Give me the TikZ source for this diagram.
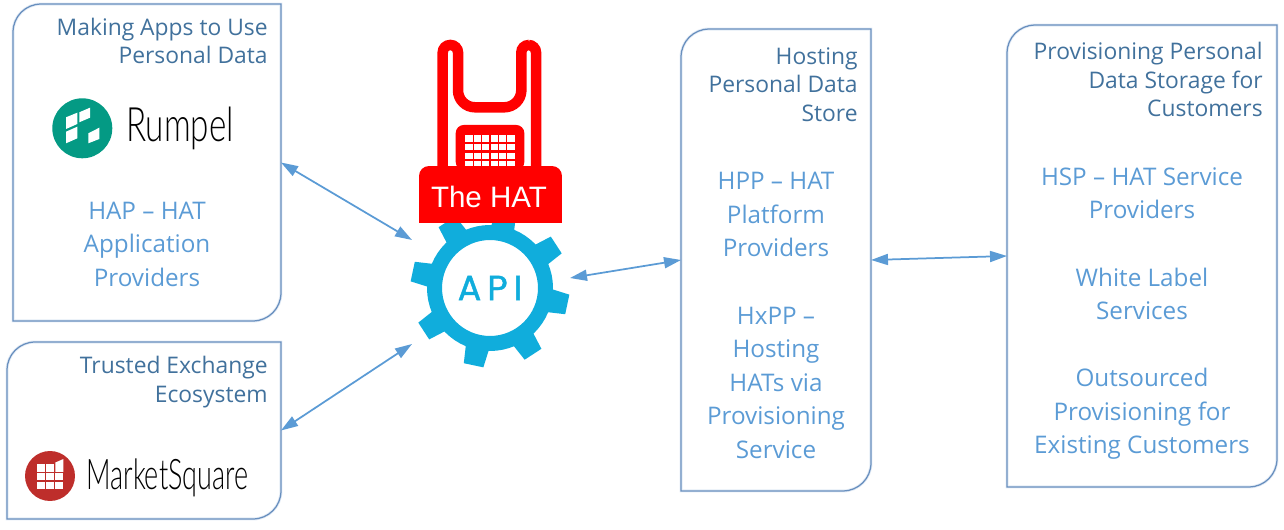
\documentclass[tikz,border=0pt]{standalone}
\usepackage{fontspec}
\setmainfont{Open Sans}
\newfontfamily\logofont[FakeStretch=0.7]{Lato Light}
\newfontfamily\marketfont[FakeStretch=0.64]{Lato Light}
\newfontfamily\hatfont{Liberation Sans}
\newfontfamily\apifont[LetterSpace=17,FakeBold=1.2]{Poppins}
\usetikzlibrary{arrows.meta}
\definecolor{HeadBlue}{RGB}{65,113,156}
\definecolor{BodyBlue}{RGB}{91,155,213}
\definecolor{EdgeBlue}{RGB}{104,143,190}
\definecolor{ShadeBlue}{RGB}{228,236,246}
\definecolor{GearBlue}{RGB}{16,173,220}
\definecolor{HatRed}{RGB}{255,0,0}
\definecolor{RumpelGreen}{RGB}{4,154,132}
\definecolor{MarketRed}{RGB}{190,46,43}
\tikzset{databox/.style={rectangle,inner sep=0pt,outer sep=0pt},
head/.style={font=\fontsize{13}{16.2}\selectfont,text=HeadBlue,align=right,anchor=east,inner sep=0pt},
body/.style={font=\fontsize{13.8}{19.07}\selectfont,text=BodyBlue,align=center,inner sep=0pt},
boxline/.style={draw=EdgeBlue,line width=0.025cm},
boxshade/.style={draw=ShadeBlue,line width=0.06cm,shift={(1.5,2)}},
link/.style={draw=BodyBlue,line width=0.035cm,{Triangle[length=0.34cm,width=0.22cm]}-{Triangle[length=0.34cm,width=0.22cm]}},
logotext/.style={font=\logofont\fontsize{27}{30}\selectfont,text=black,inner sep=0pt}}
\newcommand{\tabpath}[1]{(#1.north) [sharp corners] -- (#1.north east) -- (#1.east) [rounded corners=0.56cm] -- (#1.south east) -- (#1.south) [sharp corners] -- (#1.south west) -- (#1.west) [rounded corners=0.56cm] -- (#1.north west) -- (#1.north)}
\newcommand{\tabbox}[1]{\draw[boxshade] \tabpath{#1};\draw[boxline] \tabpath{#1};}
\begin{document}
\begin{tikzpicture}[x=0.02cm,y=-0.02cm]
\useasboundingbox (0,0) rectangle (1284,530);
\node[databox,minimum width=5.36cm,minimum height=6.34cm] (hapbox) at (147,162.5) {};
\node[databox,minimum width=5.48cm,minimum height=3.54cm] (tradebox) at (144,430.5) {};
\node[databox,minimum width=3.8cm,minimum height=9.24cm] (hppbox) at (776,260) {};
\node[databox,minimum width=5.4cm,minimum height=9.24cm] (hspbox) at (1142,256) {};
\tabbox{hapbox}
\tabbox{tradebox}
\tabbox{hppbox}
\tabbox{hspbox}
\node[head] (haphead) at (268,41) {Making Apps to Use\\Personal Data};
\node[head] (tradehead) at (268,382) {Trusted Exchange\\Ecosystem};
\node[head] (hpphead) at (858,84.5) {Hosting\\Personal Data\\Store};
\node[head] (hsphead) at (1263,79.5) {Provisioning Personal\\Data Storage for\\Customers};
\node[body] (haptext) at (147,244) {HAP – HAT\\Application\\Providers};
\node[body] (hpptext) at (776,214.5) {HPP – HAT\\Platform\\Providers};
\node[body] (hxpptext) at (776,382.5) {HxPP –\\Hosting\\HATs via\\Provisioning\\Service};
\node[body] (hsptext) at (1142,193) {HSP – HAT Service\\Providers};
\node[body] (whitetext) at (1142,294) {White Label\\Services};
\node[body] (outtext) at (1142,414) {Outsourced\\Provisioning for\\Existing Customers};
\node[circle,fill=RumpelGreen,minimum size=1.2cm,inner sep=0pt] (rumpellogo) at (82.3,128.3) {};
\fill[white] (66,117.3)--(77.3,112.7)--(77.3,124)--(66,129)--cycle;
\fill[white] (79.3,112.3)--(90,107.7)--(90,117.7)--(79.3,122.3)--cycle;
\fill[white] (66,131.7)--(77.3,126.7)--(77.3,138.3)--(66,143.3)--cycle;
\fill[white] (88.3,133.3)--(99.3,127.7)--(99.3,139)--(88.3,143.3)--cycle;
\node[logotext,anchor=west] (rumpelname) at (126,128) {Rumpel};
\node[circle,fill=MarketRed,minimum size=1cm,inner sep=0pt] (marketlogo) at (50,476) {};
\foreach \i in {0,1,2}{
\foreach \j in {0,1}{
\fill[white] (37+\i*9.2,473+\j*8.6) rectangle ++(8,7.4);
}}
\fill[white] (37,464.4) rectangle ++(8,7.4);
\fill[white] (46.2,464.4) rectangle ++(8,7.4);
\fill[white] (55.4,462.5)--(63.4,459)--(63.4,471.8)--(55.4,471.8)--cycle;
\node[logotext,anchor=west,font=\marketfont\fontsize{24}{30}\selectfont] (marketname) at (86,478) {MarketSquare};
\foreach \a in {33,-12,-57,-102,-147,168,123,78}{
\begin{scope}[shift={(490,288)},rotate=\a]
\fill[GearBlue] (58,-12)--(79,-10)--(79,10)--(58,12)--cycle;
\end{scope}
}
\node[circle,draw=GearBlue,fill=white,line width=0.3cm,minimum size=2.22cm,inner sep=0pt,font=\apifont\fontsize{20}{20}\selectfont,text=GearBlue] (api) at (490,288) {API};
\draw[HatRed,line width=0.21cm,rounded corners=0.15cm] (442.7,170) -- (442.7,45) -- (458,45) -- (458,75) [rounded corners=0.34cm] -- (458,107.3) -- (521.3,107.3) -- (521.3,75) [rounded corners=0.15cm] -- (521.3,45) -- (536,45) -- (536,170);
\fill[HatRed,rounded corners=0.16cm] (455.7,170) -- (455.7,125) -- (524.3,125) -- (524.3,170) -- cycle;
\fill[white] (465,135) rectangle (515,167.5);
\foreach \i in {1,2,3,4,5}{
\draw[HatRed,line width=0.03cm] (465+\i*8.33,135) -- (465+\i*8.33,167.5);
}
\draw[HatRed,line width=0.03cm] (465,143) -- (515,143);
\draw[HatRed,line width=0.06cm] (465,151.5) -- (515,151.5);
\draw[HatRed,line width=0.03cm] (465,160) -- (515,160);
\node[fill=HatRed,minimum width=2.86cm,minimum height=1.14cm,inner sep=0pt,rounded corners=0.2cm] (hat) at (490.5,194.5) {};
\fill[HatRed] (419,200) rectangle (562,223);
\node[font=\hatfont\fontsize{16.8}{18}\selectfont,text=white,inner sep=0pt] (hatname) at (489,197) {The HAT};
\coordinate (apitl) at (412,240);
\coordinate (apibl) at (412,344);
\coordinate (apir) at (570,278);
\draw[link] (hapbox.east) -- (apitl);
\draw[link] (tradebox.east) -- (apibl);
\draw[link] (apir) -- (hppbox.west);
\draw[link] (hppbox.east) -- (hspbox.west);
\end{tikzpicture}
\end{document}
